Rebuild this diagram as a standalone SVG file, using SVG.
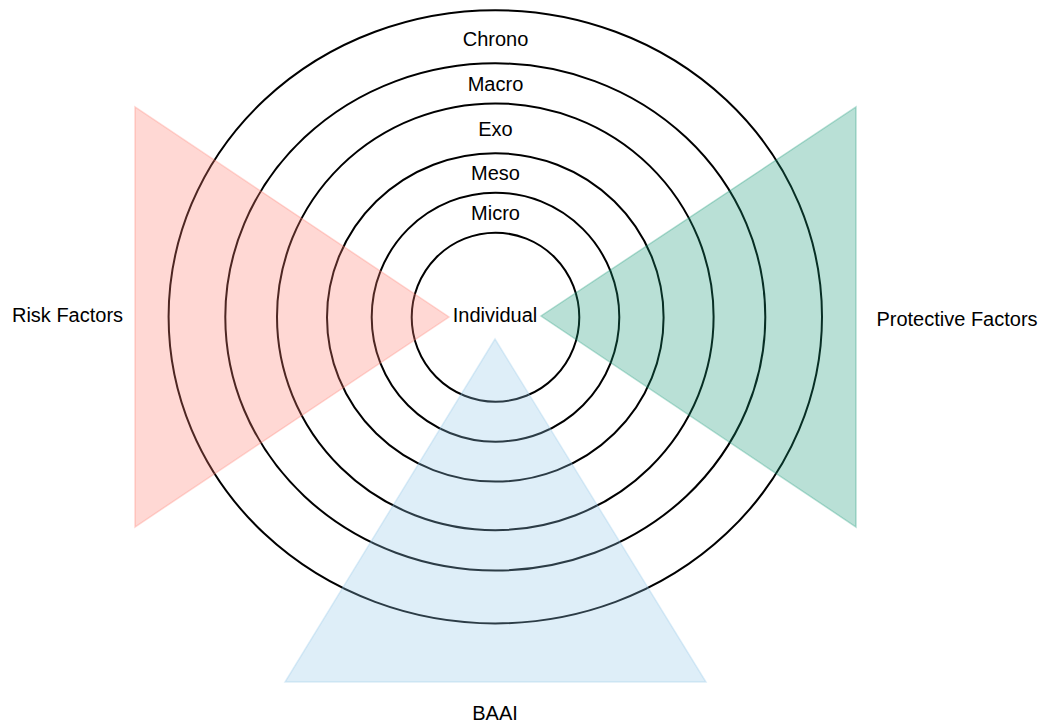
<svg xmlns="http://www.w3.org/2000/svg" width="1045" height="724" viewBox="0 0 1045 724">
  <style>
    .ring { fill: none; stroke: #000000; stroke-width: 2; }
    .lbl { font-family: "Liberation Sans", Arial, sans-serif; font-size: 20px; fill: #000000; text-anchor: middle; }
    .tri { stroke-width: 1.5; fill-opacity: 0.3; stroke-opacity: 0.3; }
  </style>
  <rect x="0" y="0" width="1045" height="724" fill="#ffffff"/>
  <g id="rings">
    <ellipse id="chrono" class="ring" cx="495.3" cy="316.8" rx="326.7" ry="306.6"/>
    <ellipse id="macro" class="ring" cx="495.3" cy="316.9" rx="270" ry="253.6"/>
    <ellipse id="exo" class="ring" cx="495.3" cy="316.8" rx="218.3" ry="213.4"/>
    <ellipse id="meso" class="ring" cx="495.3" cy="317.4" rx="168.3" ry="164.2"/>
    <ellipse id="micro" class="ring" cx="495.5" cy="317.2" rx="123.8" ry="124.5"/>
    <ellipse id="individual" class="ring" cx="495.5" cy="317.2" rx="83.8" ry="84.5"/>
  </g>
  <g id="risk-factors">
    <polygon class="tri" points="135,107 135,527 449,317" fill="#FF7F70" stroke="#FF7F70"/>
    <text class="lbl" x="67.5" y="322">Risk Factors</text>
  </g>
  <g id="protective-factors">
    <polygon class="tri" points="856,107 856,527 541,316" fill="#169876" stroke="#169876"/>
    <text class="lbl" x="957" y="326">Protective Factors</text>
  </g>
  <g id="baai">
    <polygon class="tri" points="495,339 706,682 285,682" fill="#91C6E8" stroke="#91C6E8"/>
    <text class="lbl" x="495" y="720">BAAI</text>
  </g>
  <g id="labels">
    <text class="lbl" x="495.5" y="46">Chrono</text>
    <text class="lbl" x="495.5" y="91">Macro</text>
    <text class="lbl" x="495.5" y="136">Exo</text>
    <text class="lbl" x="495.5" y="180">Meso</text>
    <text class="lbl" x="495.5" y="220">Micro</text>
    <text class="lbl" x="495" y="322">Individual</text>
  </g>
</svg>
